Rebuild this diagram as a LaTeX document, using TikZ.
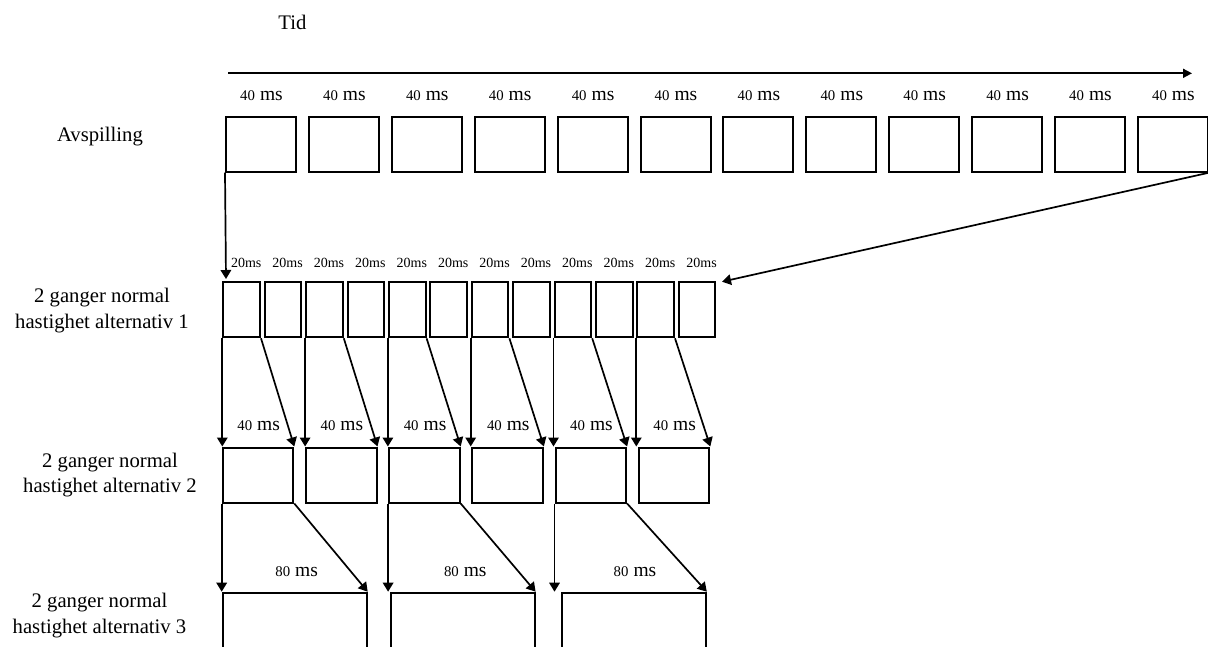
\documentclass[tikz,border=0pt]{standalone}
\usepackage{fontspec}
\setmainfont{Liberation Serif}
\usetikzlibrary{arrows.meta,calc}
\tikzset{
  frame/.style={draw, line width=2pt, inner sep=0pt, minimum height=55pt},
  bigf/.style={frame, minimum width=70pt},
  smallf/.style={frame, minimum width=36.7pt, minimum height=55.6pt},
  hugef/.style={frame, minimum width=144pt, minimum height=110pt},
  arr/.style={line width=1.7pt, -{Triangle[length=9pt,width=10.5pt]}},
  axisarr/.style={line width=1.7pt, -{Triangle[length=9pt,width=9pt]}},
  lab/.style={font=\fontsize{20.7}{25.3}\selectfont, align=center, inner sep=0pt},
  dur/.style={anchor=base, inner sep=0pt},
}
\newcommand{\durms}[1]{{\fontsize{14.8}{17}\selectfont #1}\hspace{5pt}{\fontsize{19.5}{23}\selectfont ms}}
\begin{document}
\begin{tikzpicture}[x=1pt,y=-1pt]
\useasboundingbox (0,0) rectangle (1208,646);
\clip (0,0) rectangle (1208,646);
% headings
\node[lab, anchor=base] (tid) at (292.5,29.3) {Tid};
\node[lab, anchor=base] (avs) at (100,141.7) {Avspilling};
\node[lab] (l1) at (102,310.4) {2 ganger normal\\hastighet alternativ 1};
\node[lab] (l2) at (110,474.7) {2 ganger normal\\hastighet alternativ 2};
\node[lab] (l3) at (99.5,615.4) {2 ganger normal\\hastighet alternativ 3};
% time axis
\coordinate (ts) at (228.3,73.3);
\coordinate (te) at (1192,73.3);
\draw[axisarr] (ts) -- (te);
% row 1
\foreach \i in {1,...,12} {
  \node[bigf] (a\i) at ({261+82.9*(\i-1)},144.2) {};
  \node[dur] (da\i) at ({261.5+82.9*(\i-1)},100) {\durms{40}};
}
% row 2
\foreach \j in {1,...,12} {
  \node[smallf] (b\j) at ({241.65+41.4*(\j-1)},309.5) {};
  \node[dur, font=\fontsize{14}{16}\selectfont] (db\j) at ({246.2+41.4*(\j-1)},267.3) {20ms};
}
% row 3
\foreach \k in {1,...,6} {
  \node[bigf, minimum width=70.6pt] (c\k) at ({258+83.2*(\k-1)},475) {};
  \node[dur] (dc\k) at ({258.7+83.2*(\k-1)},430) {\durms{40}};
}
% row 4
\node[hugef] (e1) at (294.7,647.7) {};
\node[hugef] (e2) at (462.6,647.7) {};
\node[hugef] (e3) at (633.8,647.7) {};
\node[dur] (de1) at (296.7,576.7) {\durms{80}};
\node[dur] (de2) at (465.3,576.7) {\durms{80}};
\node[dur] (de3) at (635,576.7) {\durms{80}};
% row 1 -> row 2
\coordinate (f1) at (226,279);
\coordinate (f2) at (722,281.7);
\draw[arr] (a1.south west) -- (f1);
\draw[arr] (a12.south east) -- (f2);
% row 2 -> row 3
\foreach \k in {1,...,6} {
  \pgfmathtruncatemacro\j{2*\k-1}
  \draw[arr] (b\j.south west) -- (b\j.south west |- c\k.north);
  \draw[arr] (b\j.south east) -- (c\k.north east);
}
% row 3 -> row 4
\foreach \k/\m in {1/1,3/2,5/3} {
  \draw[arr] (c\k.south west) -- (c\k.south west |- e\m.north);
  \draw[arr] (c\k.south east) -- (e\m.north east);
}
\end{tikzpicture}
\end{document}
